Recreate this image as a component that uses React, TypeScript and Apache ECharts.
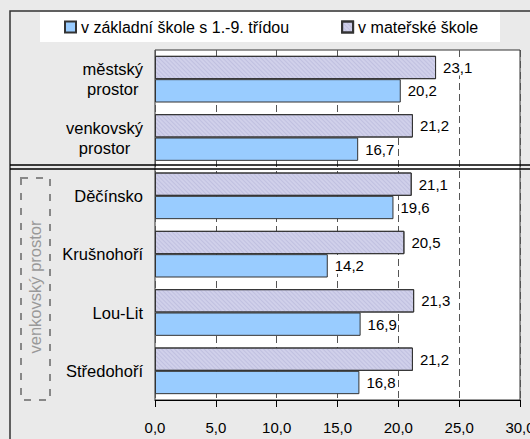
import React, { useEffect, useRef } from "react";
import * as echarts from "echarts";

const categories = ["městský prostor", "venkovský prostor", "Děčínsko", "Krušnohoří", "Lou-Lit", "Středohoří"];
const seriesNames = ["v základní škole s 1.-9. třídou", "v mateřské škole"];
const zakladni = [20.2, 16.7, 19.6, 14.2, 16.9, 16.8];
const materska = [23.1, 21.2, 21.1, 20.5, 21.3, 21.2];
const xTicks = [0, 5, 10, 15, 20, 25, 30];
const groupLabel = "venkovský prostor";

const FONT = "'Liberation Sans', Arial, sans-serif";
const fmt = (v: number) => v.toFixed(1).replace(".", ",");

const makeLabel = () => ({
  show: true,
  position: "right",
  distance: 6,
  fontSize: 15,
  color: "#000",
  fontFamily: FONT,
  backgroundColor: "#ffffff",
  padding: [1, 1, 0, 1],
  formatter: (p: any) => fmt(p.value),
});

export default function App() {
  const ref = useRef<HTMLDivElement>(null);
  useEffect(() => {
    if (!ref.current) return;
    const chart = echarts.init(ref.current, null, { renderer: "svg" });
    const option: any = {
      animation: false,
      backgroundColor: "#eaeaea",
      textStyle: { fontFamily: FONT },
      grid: {
        left: 155,
        right: 10,
        top: 50,
        bottom: 39,
        outerBoundsMode: "none",
        show: true,
        backgroundColor: "#ffffff",
        borderColor: "#333333",
        borderWidth: 1,
      },
      legend: {
        data: seriesNames,
        left: 64,
        top: 19,
        padding: 0,
        itemWidth: 11,
        itemHeight: 11,
        itemGap: 52,
        icon: "rect",
        textStyle: { fontSize: 16, color: "#000", fontFamily: FONT },
        selectedMode: false,
      },
      xAxis: {
        type: "value",
        min: xTicks[0],
        max: xTicks[xTicks.length - 1],
        interval: 5,
        axisLine: { show: true, lineStyle: { color: "#000", width: 1 } },
        axisTick: { show: true, length: 7, lineStyle: { color: "#000" } },
        axisLabel: {
          formatter: (v: number) => fmt(v),
          fontSize: 15,
          color: "#000",
          margin: 20,
          fontFamily: FONT,
        },
        splitLine: { show: true, lineStyle: { color: "#555", type: [7, 4], width: 1 } },
      },
      yAxis: {
        type: "category",
        data: categories,
        inverse: true,
        axisLine: { show: false },
        axisTick: { show: false },
        axisLabel: {
          margin: 12,
          color: "#000",
          fontSize: 16.5,
          fontFamily: FONT,
          formatter: (v: string) => {
            if (v.indexOf(" prostor") >= 0) {
              const parts = v.split(" ");
              return `{c|${parts[0]}}\n{c|${parts[1]}}`;
            }
            return v;
          },
          rich: {
            c: { align: "center", fontSize: 16.5, lineHeight: 20, color: "#000", fontFamily: FONT },
          },
        },
      },
      series: [
        {
          name: seriesNames[1],
          type: "bar",
          data: materska,
          barGap: "0%",
          barCategoryGap: "20%",
          itemStyle: {
            color: "#d0d0ea",
            borderColor: "#333",
            borderWidth: 1,
            decal: {
              symbol: "rect",
              symbolSize: 1,
              color: "rgba(150,150,195,0.28)",
              dashArrayX: [1, 0],
              dashArrayY: [1, 2],
              rotation: Math.PI / 4,
            },
          },
          label: makeLabel(),
        },
        {
          name: seriesNames[0],
          type: "bar",
          data: zakladni,
          barGap: "0%",
          barCategoryGap: "20%",
          itemStyle: { color: "#99ccff", borderColor: "#333", borderWidth: 1 },
          label: makeLabel(),
        },
      ],
      graphic: [
        {
          type: "rect",
          z: -10,
          silent: true,
          shape: { x: 10, y: 11, width: 560, height: 480 },
          style: { fill: "none", stroke: "#333", lineWidth: 1.5 },
        },
        {
          type: "rect",
          z: -9,
          silent: true,
          shape: { x: 40, y: 12, width: 460, height: 30 },
          style: { fill: "#ffffff", stroke: "none" },
        },
        {
          type: "line",
          silent: true,
          z: 20,
          shape: { x1: 10, y1: 165, x2: 530, y2: 165 },
          style: { stroke: "#000", lineWidth: 1.5 },
        },
        {
          type: "line",
          silent: true,
          z: 20,
          shape: { x1: 10, y1: 169, x2: 530, y2: 169 },
          style: { stroke: "#000", lineWidth: 1.5 },
        },
        {
          type: "rect",
          silent: true,
          shape: { x: 21, y: 178, width: 29, height: 222 },
          style: { fill: "none", stroke: "#888", lineWidth: 2, lineDash: [7, 8] },
        },
        {
          type: "text",
          silent: true,
          x: 35,
          y: 287,
          rotation: Math.PI / 2,
          style: {
            text: groupLabel,
            fill: "#999",
            fontSize: 16.5,
            fontFamily: FONT,
            align: "center",
            verticalAlign: "middle",
          },
        },
      ],
    };
    chart.setOption(option);
    return () => chart.dispose();
  }, []);
  return (
    <div
      ref={ref}
      style={{ position: "fixed", left: 0, top: 0, width: 530, height: 439 }}
    />
  );
}
